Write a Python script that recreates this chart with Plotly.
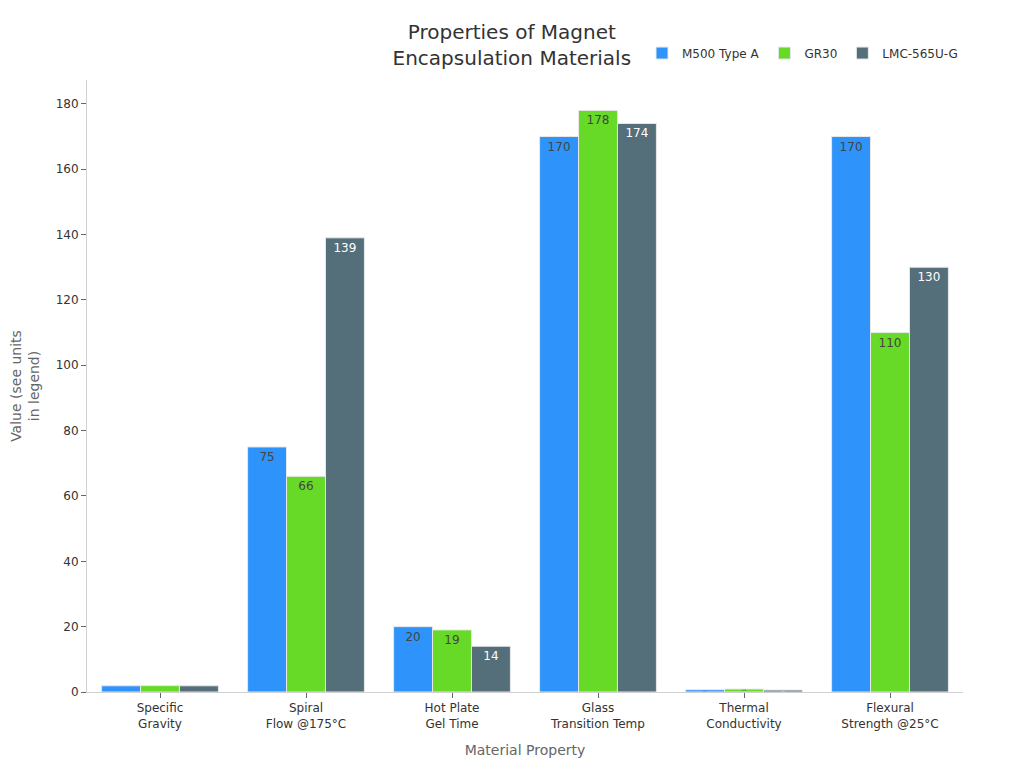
import plotly.graph_objects as go

categories = ["Specific<br>Gravity", "Spiral<br>Flow @175°C", "Hot Plate<br>Gel Time",
              "Glass<br>Transition Temp", "Thermal<br>Conductivity", "Flexural<br>Strength @25°C"]
m500 = [1.9, 75, 20, 170, 0.7, 170]
gr30 = [1.95, 66, 19, 178, 0.9, 110]
lmc = [1.9, 139, 14, 174, 0.6, 130]

series = [("M500 Type A", m500, "#2E93FA"),
          ("GR30", gr30, "#66DA26"),
          ("LMC-565U-G", lmc, "#546E7A")]

fig = go.Figure()
for name, vals, color in series:
    fig.add_trace(go.Bar(
        x=categories, y=vals, name=name,
        marker=dict(color=color, line=dict(color="#e8e8e8", width=1)),
        text=[f"{v:g}" for v in vals], textposition="inside", insidetextanchor="end",
        textangle=0, textfont=dict(size=12),
    ))

fig.update_layout(
    template="plotly_white",
    width=1024, height=768,
    font=dict(family="DejaVu Sans", color="#333333"),
    title=dict(text="Properties of Magnet<br>Encapsulation Materials", x=0.492, xanchor="center",
               y=0.959, yanchor="middle", font=dict(size=20, color="#333333")),
    barmode="group", bargap=0.2, bargroupgap=0,
    margin=dict(l=79, r=69, t=72, b=84),
    legend=dict(orientation="h", x=1.0, xanchor="right", y=1.044, yanchor="middle",
                font=dict(size=12)),
    xaxis=dict(title=dict(text="Material Property", font=dict(size=14, color="#666666")),
               showgrid=False, showline=True, linecolor="#d0d0d0", ticks="outside",
               ticklen=5, tickcolor="#666666", tickfont=dict(size=12)),
    yaxis=dict(title=dict(text="Value (see units<br>in legend)", font=dict(size=14, color="#666666"),
                          standoff=12),
               automargin=False,
               range=[0, 187.3], dtick=20, showgrid=False, zeroline=False, showline=True,
               linecolor="#d0d0d0", ticks="outside", ticklen=5, tickcolor="#666666",
               tickfont=dict(size=12)),
)

fig.write_html("out.html")
